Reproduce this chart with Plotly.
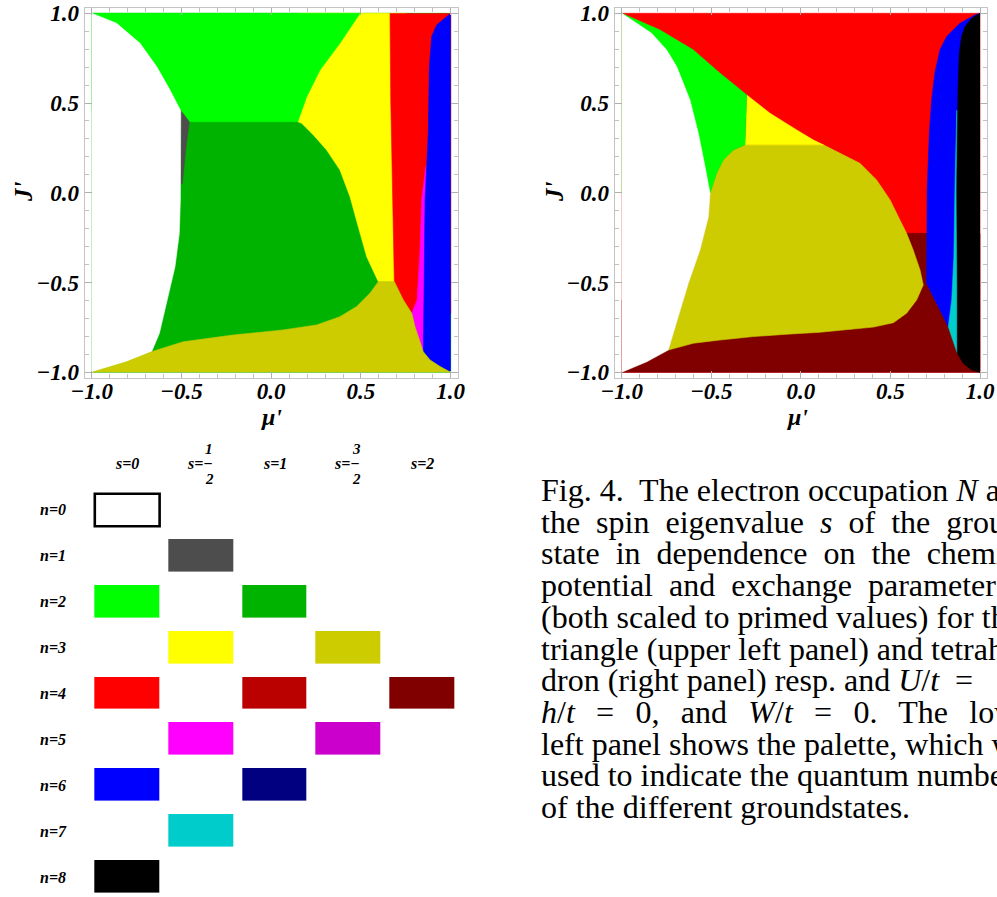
import plotly.graph_objects as go

W, H = 997, 897

# ---------------- palette (quantum numbers -> colour) ----------------
pal_n = [0, 1, 2, 2, 3, 3, 4, 4, 4, 5, 5, 6, 6, 7, 8]
pal_2s = [0, 1, 0, 2, 1, 3, 0, 2, 4, 1, 3, 0, 2, 1, 0]
pal_colors = ["#ffffff", "#4d4d4d", "#00ff00", "#00b300", "#ffff00", "#cccc00",
              "#ff0000", "#bb0000", "#800000", "#ff00ff", "#cc00cc",
              "#0000ff", "#000080", "#00cccc", "#000000"]
s_labels = ["s=0", "s=1/2", "s=1", "s=3/2", "s=2"]
n_labels = ["n=%d" % k for k in range(9)]

# ---------------- triangle (upper left panel), region outlines (mu', J') ----------------
tri_darkgreen_x = [-1, 1, 1, -1]
tri_darkgreen_y = [-1, -1, 1, 1]
tri_yellow_x = [0.148, 0.170, 0.235, 0.309, 0.383, 0.439, 0.485, 0.532, 0.597, 0.75, 0.75, 0.148]
tri_yellow_y = [0.396, 0.387, 0.322, 0.238, 0.127, -0.022, -0.189, -0.356, -0.495, -0.495, 1, 1]
tri_green_x = [-1, 0.495, 0.383, 0.272, 0.198, 0.160, 0.148, -0.456, -0.504, -1]
tri_green_y = [1, 1, 0.833, 0.684, 0.535, 0.424, 0.396, 0.396, 0.461, 0.461]
tri_gray_x = [-0.506, -0.456, -0.475, -0.495, -0.506]
tri_gray_y = [0.461, 0.396, 0.25, 0.05, 0.05]
tri_red_x = [0.662, 0.666, 0.677, 0.686, 0.736, 0.783, 1, 1]
tri_red_y = [1, 0.517, -0.040, -0.495, -0.597, -0.671, -0.671, 1]
tri_magenta_x = [0.862, 0.845, 0.838, 0.829, 0.813, 0.783, 0.801, 0.829, 0.847, 0.9, 0.9]
tri_magenta_y = [0.15, 0.0, -0.040, -0.318, -0.597, -0.671, -0.746, -0.837, -0.885, -0.885, 0.15]
tri_blue_x = [1, 0.978, 0.922, 0.894, 0.881, 0.875, 0.862, 0.857, 0.851, 0.847, 0.885, 0.941, 1]
tri_blue_y = [1, 0.981, 0.935, 0.870, 0.703, 0.331, 0.1, -0.040, -0.597, -0.885, -0.931, -0.968, -1]
tri_white_x = [-1, -0.861, -0.731, -0.638, -0.564, -0.518, -0.504, -0.506, -0.508, -0.512,
               -0.536, -0.579, -0.623, -0.666, -0.805, -1]
tri_white_y = [1, 0.944, 0.833, 0.703, 0.573, 0.480, 0.457, -0.040, -0.114, -0.226,
               -0.412, -0.597, -0.783, -0.885, -0.941, -1]
tri_olive_x = [-1, -0.805, -0.666, -0.490, -0.211, 0.067, 0.253, 0.383, 0.476, 0.550, 0.597,
               0.686, 0.736, 0.783, 0.801, 0.829, 0.847, 0.885, 0.941, 1]
tri_olive_y = [-1, -0.941, -0.885, -0.830, -0.792, -0.764, -0.736, -0.690, -0.634, -0.560, -0.495,
               -0.495, -0.597, -0.671, -0.746, -0.837, -0.885, -0.931, -0.968, -1]

# ---------------- tetrahedron (upper right panel) ----------------
tet_red_x = [-1, 1, 1, -1]
tet_red_y = [-1, -1, 1, 1]
tet_maroon_x = [-1, 1, 1, 0.590, 0.4, -1]
tet_maroon_y = [-1, -1, -0.226, -0.226, -0.6, -0.6]
tet_olive_x = [-0.312, 0.126, 0.219, 0.330, 0.423, 0.498, 0.553, 0.590, 0.627, 0.665, 0.683,
               0.646, 0.590, 0.516, 0.405, 0.293, 0.107, -0.079, -0.265, -0.451, -0.600, -0.740,
               -0.684, -0.628, -0.563, -0.516, -0.507, -0.470, -0.433, -0.377]
tet_olive_y = [0.267, 0.267, 0.220, 0.164, 0.071, -0.040, -0.152, -0.226, -0.319, -0.430, -0.514,
               -0.597, -0.671, -0.724, -0.748, -0.760, -0.777, -0.788, -0.801, -0.820, -0.838, -0.876,
               -0.690, -0.504, -0.318, -0.133, -0.003, 0.109, 0.183, 0.239]
tet_yellow_x = [-0.302, -0.172, -0.023, 0.070, 0.126, -0.312]
tet_yellow_y = [0.545, 0.443, 0.350, 0.294, 0.267, 0.267]
tet_green_x = [-1, -0.786, -0.600, -0.451, -0.358, -0.302, -0.312, -0.377, -0.433, -0.470, -0.507, -1]
tet_green_y = [1, 0.907, 0.796, 0.666, 0.591, 0.545, 0.267, 0.239, 0.183, 0.109, -0.003, -0.003]
tet_white_x = [-1, -0.833, -0.749, -0.693, -0.619, -0.572, -0.535, -0.507, -0.516, -0.563,
               -0.628, -0.684, -0.740, -0.860, -1]
tet_white_y = [1, 0.889, 0.796, 0.703, 0.517, 0.331, 0.146, -0.003, -0.133, -0.318,
               -0.504, -0.690, -0.876, -0.941, -1]
tet_blue_x = [1, 0.972, 0.888, 0.814, 0.776, 0.748, 0.730, 0.717, 0.705, 0.702, 0.702,
              0.758, 0.804, 0.823, 1]
tet_blue_y = [1, 0.991, 0.944, 0.870, 0.796, 0.666, 0.517, 0.331, 0.016, -0.226, -0.504,
              -0.616, -0.709, -0.746, -0.746]
tet_cyan_x = [0.870, 0.862, 0.860, 0.854, 0.842, 0.823, 0.842, 0.860, 0.873, 0.95, 0.95]
tet_cyan_y = [0.46, 0.2, 0.016, -0.356, -0.597, -0.746, -0.802, -0.857, -0.894, -0.894, 0.46]
tet_black_x = [1, 0.953, 0.916, 0.897, 0.884, 0.878, 0.873, 0.870, 0.873, 0.873, 0.906, 0.953, 1]
tet_black_y = [1, 0.972, 0.925, 0.870, 0.777, 0.610, 0.331, 0.016, -0.5, -0.894, -0.950, -0.987, -1]

S2 = "\u00a0 "          # stretched (justified) word gap
S3 = "\u00a0\u2006 "
caption_lines = [
    "Fig. 4.\u00a0 The electron occupation <i>N</i> and",
    S2.join(["the", "spin", "eigenvalue", "<i>s</i>", "of", "the", "ground"]),
    S2.join(["state", "in", "dependence", "on", "the", "chemical"]),
    S2.join(["potential", "and", "exchange", "parameter", "<i>J</i>"]),
    "(both scaled to primed values) for the",
    "triangle (upper left panel) and tetrahe-",
    "dron (right panel) resp. and <i>U</i>/<i>t</i>\u00a0 =",
    S3.join(["<i>h</i>/<i>t</i>", "=", "0,", "and", "<i>W</i>/<i>t</i>", "=", "0.", "The", "lower"]),
    "left panel shows the palette, which was",
    "used to indicate the quantum numbers",
    "of the different groundstates.",
]

# ---------------- build figure ----------------
def col(n, s2):
    for nn, ss, c in zip(pal_n, pal_2s, pal_colors):
        if nn == n and ss == s2:
            return c

tri_regions = [
    (tri_darkgreen_x, tri_darkgreen_y, 2, 2),
    (tri_yellow_x, tri_yellow_y, 3, 1),
    (tri_green_x, tri_green_y, 2, 0),
    (tri_gray_x, tri_gray_y, 1, 1),
    (tri_red_x, tri_red_y, 4, 0),
    (tri_magenta_x, tri_magenta_y, 5, 1),
    (tri_blue_x, tri_blue_y, 6, 0),
    (tri_white_x, tri_white_y, 0, 0),
    (tri_olive_x, tri_olive_y, 3, 3),
]
tet_regions = [
    (tet_red_x, tet_red_y, 4, 0),
    (tet_maroon_x, tet_maroon_y, 4, 4),
    (tet_olive_x, tet_olive_y, 3, 3),
    (tet_yellow_x, tet_yellow_y, 3, 1),
    (tet_green_x, tet_green_y, 2, 0),
    (tet_white_x, tet_white_y, 0, 0),
    (tet_blue_x, tet_blue_y, 6, 0),
    (tet_cyan_x, tet_cyan_y, 7, 1),
    (tet_black_x, tet_black_y, 8, 0),
]

fig = go.Figure()
for regions, xa, ya in [(tri_regions, "x", "y"), (tet_regions, "x2", "y2")]:
    for rx, ry, n, s2 in regions:
        c = col(n, s2)
        fig.add_trace(go.Scatter(x=rx, y=ry, xaxis=xa, yaxis=ya, mode="lines", fill="toself",
                                 fillcolor=c, line=dict(color=c, width=0.6),
                                 hoverinfo="skip", showlegend=False))

# palette as heat map
zgrid = [[None] * 5 for _ in range(9)]
for i, (n, s2) in enumerate(zip(pal_n, pal_2s)):
    zgrid[n][s2] = i
k = len(pal_colors)
cscale = [[i / (k - 1), c] for i, c in enumerate(pal_colors)]
col_pitch, row_pitch = 73.8, 45.9
xgap, ygap = 9, 13.4
fig.add_trace(go.Heatmap(z=zgrid, x=list(range(5)), y=list(range(9)), xaxis="x3", yaxis="y3",
                         colorscale=cscale, zmin=0, zmax=k - 1, showscale=False,
                         xgap=xgap, ygap=ygap, hoverinfo="skip"))
hw = 0.5 * (1 - xgap / col_pitch)
hh = 0.5 * (1 - ygap / row_pitch)
fig.add_shape(type="rect", xref="x3", yref="y3", x0=pal_2s[0] - hw, x1=pal_2s[0] + hw,
              y0=pal_n[0] - hh, y1=pal_n[0] + hh, line=dict(color="black", width=2.6),
              fillcolor="white")

tickfont = dict(family="Liberation Serif", size=23, color="black", weight="bold", style="italic")
frame = dict(showline=True, linecolor="#c4c4c4", linewidth=1, mirror="allticks",
             ticks="inside", ticklen=7, tickwidth=1, tickcolor="#b0b0b0",
             tick0=0, dtick=0.5, tickformat=".1f", tickfont=tickfont,
             minor=dict(ticks="inside", ticklen=4, tickcolor="#c0c0c0", dtick=0.1, tick0=0),
             showgrid=False, zeroline=False, fixedrange=True, automargin=False)

y_dom = [1 - 377.7 / H, 1 - 7.9 / H]
fig.update_layout(
    width=W, height=H, margin=dict(l=0, r=0, t=0, b=0, autoexpand=False),
    paper_bgcolor="white", plot_bgcolor="white", showlegend=False,
    xaxis=dict(frame, domain=[84.5 / W, 457.9 / W], range=[-1.04, 1.04], anchor="y",
               ticklabelstandoff=-7),
    yaxis=dict(frame, domain=y_dom, range=[-1.03, 1.03], anchor="x"),
    xaxis2=dict(frame, domain=[614.5 / W, 987.2 / W], range=[-1.04, 1.04], anchor="y2",
                ticklabelstandoff=-7),
    yaxis2=dict(frame, domain=y_dom, range=[-1.03, 1.03], anchor="x2"),
    xaxis3=dict(domain=[90.3 / W, 459.4 / W], range=[-0.5, 4.5], visible=False, anchor="y3",
                fixedrange=True, automargin=False),
    yaxis3=dict(domain=[0, 1 - 487 / H], range=[8.435, -0.5], visible=False, anchor="x3",
                fixedrange=True, automargin=False),
)

ann = []
bi = dict(family="Liberation Serif", color="black", weight="bold", style="italic")
C = dict(showarrow=False, xanchor="center", yanchor="middle")
# axis titles
for xpx in (24, 555):
    ann.append(dict(C, xref="paper", yref="paper", x=xpx / W, y=1 - 192 / H, text="J'",
                    textangle=-90, font=dict(bi, size=25)))
for xpx in (271, 797):
    ann.append(dict(C, xref="paper", yref="paper", x=xpx / W, y=1 - 417 / H, text="μ'",
                    font=dict(bi, size=24)))
# palette headers
for j, lab in enumerate(s_labels):
    if "/" in lab:
        num, den = lab[2:].split("/")
        ann.append(dict(C, xref="x3", yref="paper", x=j - 0.02, y=1 - 463.5 / H, text="s=\u2212",
                        font=dict(bi, size=16)))
        ann.append(dict(C, xref="x3", yref="paper", x=j + 0.11, y=1 - 449.5 / H, text=num,
                        font=dict(bi, size=15)))
        ann.append(dict(C, xref="x3", yref="paper", x=j + 0.11, y=1 - 479 / H, text=den,
                        font=dict(bi, size=15)))
    else:
        ann.append(dict(C, xref="x3", yref="paper", x=j, y=1 - 463.5 / H, text=lab,
                        font=dict(bi, size=16)))
for i, lab in enumerate(n_labels):
    ann.append(dict(C, xref="paper", yref="y3", x=53 / W, y=i, text=lab,
                    font=dict(bi, size=16)))
# caption
for i, line in enumerate(caption_lines):
    ann.append(dict(xref="paper", yref="paper", x=539 / W, y=1 - (490 + 31.7 * i) / H,
                    xanchor="left", yanchor="middle", text=line, showarrow=False,
                    font=dict(family="Liberation Serif", size=32, color="black")))
fig.update_layout(annotations=ann)

fig.write_html("out.html", config={"displayModeBar": False},
               post_script="document.body.style.margin='0';")
